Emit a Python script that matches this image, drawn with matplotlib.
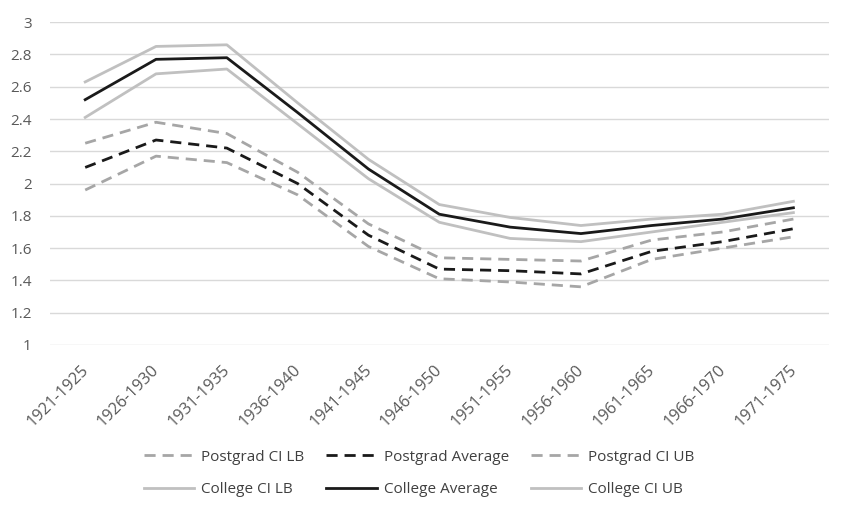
import matplotlib.pyplot as plt
import matplotlib.transforms as mtransforms

plt.rcParams['font.family'] = ['Open Sans', 'DejaVu Sans']

periods = ['1921-1925', '1926-1930', '1931-1935', '1936-1940', '1941-1945',
           '1946-1950', '1951-1955', '1956-1960', '1961-1965', '1966-1970', '1971-1975']

pg_lb = [1.96, 2.17, 2.13, 1.93, 1.61, 1.41, 1.39, 1.36, 1.53, 1.60, 1.67]
pg_avg = [2.10, 2.27, 2.22, 2.00, 1.68, 1.47, 1.46, 1.44, 1.58, 1.64, 1.72]
pg_ub = [2.25, 2.38, 2.31, 2.07, 1.75, 1.54, 1.53, 1.52, 1.65, 1.70, 1.78]

col_lb = [2.41, 2.68, 2.71, 2.37, 2.03, 1.76, 1.66, 1.64, 1.70, 1.76, 1.82]
col_avg = [2.52, 2.77, 2.78, 2.44, 2.09, 1.81, 1.73, 1.69, 1.74, 1.78, 1.85]
col_ub = [2.63, 2.85, 2.86, 2.50, 2.15, 1.87, 1.79, 1.74, 1.78, 1.81, 1.89]

x = list(range(len(periods)))

fig = plt.figure(figsize=(8.44, 5.05), dpi=100)
ax = fig.add_axes([0.059, 0.317, 0.923, 0.639])

dash = (0, (4, 2.5))
h_pglb, = ax.plot(x, pg_lb, color='#a6a6a6', lw=2, ls=dash, label='Postgrad CI LB')
h_pgavg, = ax.plot(x, pg_avg, color='#1a1a1a', lw=2, ls=dash, label='Postgrad Average')
h_pgub, = ax.plot(x, pg_ub, color='#a6a6a6', lw=2, ls=dash, label='Postgrad CI UB')
h_clb, = ax.plot(x, col_lb, color='#c0c0c0', lw=2, label='College CI LB')
h_cavg, = ax.plot(x, col_avg, color='#1a1a1a', lw=2, label='College Average')
h_cub, = ax.plot(x, col_ub, color='#c0c0c0', lw=2, label='College CI UB')

ax.set_xlim(-0.5, 10.5)
ax.set_ylim(1, 3)
ax.set_yticks([1, 1.2, 1.4, 1.6, 1.8, 2, 2.2, 2.4, 2.6, 2.8, 3])
ax.set_yticklabels(['1', '1.2', '1.4', '1.6', '1.8', '2', '2.2', '2.4', '2.6', '2.8', '3'])
ax.set_xticks(x)
ax.set_xticklabels(periods, rotation=45, ha='right', rotation_mode='anchor')
ax.grid(axis='y', color='#d9d9d9', lw=1)
ax.set_axisbelow(True)
for s in ax.spines.values():
    s.set_visible(False)
ax.tick_params(length=0, labelsize=11, colors='#595959')
ax.tick_params(axis='y', pad=13)
ax.tick_params(axis='x', labelsize=11.8, pad=12)

# nudge rotated labels a little left
shift = mtransforms.ScaledTranslation(-0.05, 0, fig.dpi_scale_trans)
for lbl in ax.get_xticklabels():
    lbl.set_transform(lbl.get_transform() + shift)

handles = [h_pglb, h_clb, h_pgavg, h_cavg, h_pgub, h_cub]
fig.legend(handles=handles, labels=[h.get_label() for h in handles], ncol=3,
           loc='center', bbox_to_anchor=(0.4965, 0.0624), frameon=False,
           fontsize=11, labelcolor='#404040', columnspacing=1.45,
           handlelength=3.3, handletextpad=0.45, labelspacing=1.15)

fig.savefig('out.png', dpi=100)
